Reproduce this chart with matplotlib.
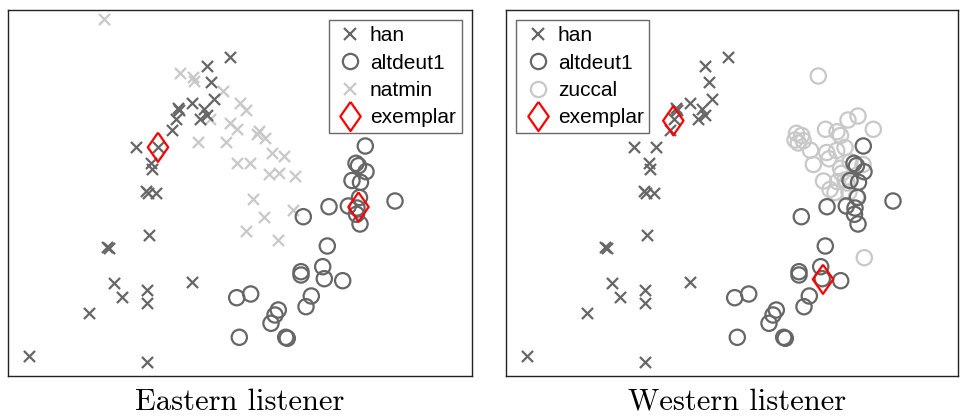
import numpy as np
import matplotlib
matplotlib.use("Agg")
import matplotlib.pyplot as plt
from matplotlib.lines import Line2D

# ---- data (MDS-like dimensions, arbitrary units) ----
han_x = [221.7, 199, 202.7, 206, 184, 169.5, 171.3, 195.5, 199, 192, 167.5, 164,
         128.3, 149.7, 142.5, 143.5, 137.8, 140, 147.5, 140.7, 99.3, 101, 105.7,
         183.7, 114.3, 139, 139, 81, 21, 139]
han_y = [319.3, 310, 294.3, 277, 273.5, 268.5, 266.5, 266.8, 261.5, 256.8, 257.3, 246.3,
         229, 229.3, 213.2, 206.7, 185, 183.5, 183.5, 141, 129.3, 127.7, 93.3,
         94.3, 78.7, 86, 72.7, 63.3, 20.3, 14.3]

alt_x = [357.3, 348, 350.5, 358, 344, 352.5, 387, 321, 295.3, 340.3, 351.5, 348.5,
         352, 319.3, 314.7, 293, 293, 316.3, 334.7, 303.3, 298, 242.7, 228.7, 270.3,
         267, 263, 231.3, 277.7, 279.3, 349]
alt_y = [230, 212.7, 210.3, 204.3, 195.5, 193.7, 175, 169.3, 159.3, 170, 178.5, 161.7,
         152, 130, 109.3, 104.3, 101, 97.3, 95.3, 80, 69.3, 82, 78.3, 66,
         61, 52.7, 38.7, 38.7, 37.7, 168]

natmin_x = [96, 171.5, 185.3, 186, 214.5, 232, 238, 202, 222, 228.7, 250.7, 248.7, 257,
            189.8, 217.5, 263.7, 276, 228.5, 242, 260.5, 271, 286.5, 244.7, 256, 284.5,
            237.8, 270.3]
natmin_y = [357.3, 302.7, 299.5, 295.5, 285.5, 273, 266, 256.8, 252.7, 247.5, 245.2, 242,
            238.5, 234.2, 234.2, 223.5, 220.5, 213, 212.7, 202.3, 203.5, 200.5, 176.8,
            159.5, 166, 145, 135.7]

zuccal_x = [312.3, 352, 342, 367.3, 319.5, 331, 334.5, 290.5, 295.7, 289, 297.3, 292.3,
            304.5, 320.7, 330.7, 339, 323, 307.3, 344, 357, 334.5, 335.7, 317.5, 331.5,
            339, 324, 329, 343, 350.5, 358.3, 341]
zuccal_y = [300, 260, 256, 246.7, 246.7, 244.3, 240.5, 242.7, 240.5, 236, 235.3, 233,
            225.7, 223.5, 225.5, 228.5, 217.2, 211.5, 214.3, 211.5, 207.7, 202.7, 195,
            194.3, 196, 186.5, 183.5, 184, 179.3, 118.3, 193]

ex_east_x = [150, 350.5]
ex_east_y = [228.7, 169]
ex_west_x = [167.3, 317]
ex_west_y = [255.3, 96.7]

titles = ["Eastern listener", "Western listener"]

# ---- styles ----
DARK = "#666666"
LIGHT = "#c8c8c8"
RED = "#ff0000"
diamond = [(0, 1), (0.7, 0), (0, -1), (-0.7, 0), (0, 1)]

fig = plt.figure(figsize=(9.61, 4.17), dpi=100)
W, H = 961, 417
ax1 = fig.add_axes([8 / W, 41 / H, 464 / W, 366 / H])
ax2 = fig.add_axes([506 / W, 41 / H, 452 / W, 366 / H])

x_kw = dict(marker="x", s=8.0 ** 2, linewidths=1.6)
o_kw = dict(marker="o", s=11.0 ** 2, facecolors="none", linewidths=1.6)
d_kw = dict(marker=diamond, s=21.0 ** 2, facecolors="none", edgecolors=RED, linewidths=1.6)

# Eastern
ax1.scatter(natmin_x, natmin_y, color=LIGHT, zorder=2, **x_kw)
ax1.scatter(han_x, han_y, color=DARK, zorder=3, **x_kw)
ax1.scatter(alt_x, alt_y, edgecolors=DARK, zorder=3, **o_kw)
ax1.scatter(ex_east_x, ex_east_y, zorder=5, **d_kw)

# Western
ax2.scatter(zuccal_x, zuccal_y, edgecolors=LIGHT, zorder=2, **o_kw)
ax2.scatter(han_x, han_y, color=DARK, zorder=3, **x_kw)
ax2.scatter(alt_x, alt_y, edgecolors=DARK, zorder=3, **o_kw)
ax2.scatter(ex_west_x, ex_west_y, zorder=5, **d_kw)

ax1.set_xlim(0, 464)
ax2.set_xlim(0, 452)
for ax in (ax1, ax2):
    ax.set_ylim(0, 366)
    ax.set_xticks([])
    ax.set_yticks([])
    for sp in ax.spines.values():
        sp.set_linewidth(1.0)
        sp.set_color("#222222")


def handles(third_label, third_marker):
    h = [
        Line2D([], [], ls="none", marker="x", ms=8, mew=1.6, color=DARK),
        Line2D([], [], ls="none", marker="o", ms=11, mew=1.6, mfc="none", mec=DARK),
        Line2D([], [], ls="none", marker=third_marker, ms=8 if third_marker == "x" else 11,
               mew=1.6, mfc="none", mec=LIGHT, color=LIGHT),
        Line2D([], [], ls="none", marker=diamond, ms=21, mew=1.6, mfc="none", mec=RED),
    ]
    labels = ["han", "altdeut1", third_label, "exemplar"]
    return h, labels


for ax, third, mk, loc in ((ax1, "natmin", "x", "upper right"), (ax2, "zuccal", "o", "upper left")):
    h, l = handles(third, mk)
    leg = ax.legend(h, l, loc=loc, prop={"family": "Liberation Sans", "size": 15},
                    frameon=True, fancybox=False, handlelength=1.48, handletextpad=0.22,
                    labelspacing=0.4, borderpad=0.28, borderaxespad=0.5)
    leg.get_frame().set_edgecolor("#444444")
    leg.get_frame().set_linewidth(1.0)
    leg.set_zorder(10)

fig.text(240 / W, 1 / H, titles[0], ha="center", va="bottom", family="cmr10", fontsize=22)
fig.text(737 / W, 1 / H, titles[1], ha="center", va="bottom", family="cmr10", fontsize=22)

fig.savefig("out.png", dpi=100)
